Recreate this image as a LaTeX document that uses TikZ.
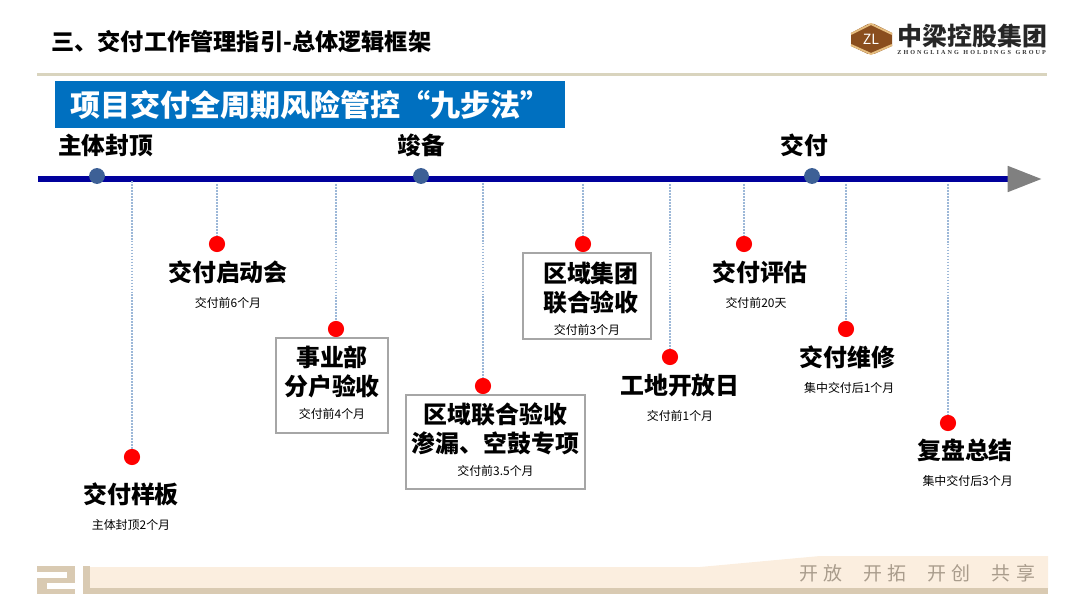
\documentclass[tikz,border=0pt]{standalone}
\usepackage{fontspec}
\setmainfont{Noto Sans CJK SC}
\newfontfamily\logoserif{Liberation Serif}
\usetikzlibrary{arrows.meta,positioning}
\definecolor{navyline}{HTML}{00009C}
\definecolor{stageblue}{HTML}{3D6096}
\definecolor{titleblue}{HTML}{0070C0}
\definecolor{ruletan}{HTML}{D9D4BE}
\definecolor{bandlight}{HTML}{FBEEDF}
\definecolor{banddark}{HTML}{D9CAB2}
\definecolor{leaderblue}{HTML}{9DB8D8}
\definecolor{logobrown}{HTML}{8A4E1E}
\definecolor{logotan}{HTML}{E6BE80}
\definecolor{mottogray}{HTML}{A99C8C}
\newcommand{\sublbl}[1]{{\fontsize{6.8}{8}\selectfont\mdseries #1}}
\tikzset{
  axisline/.style={line width=3.4pt, navyline, -{Triangle[length=19.5pt, width=14pt, color=gray]}},
  stagedot/.style={circle, fill=stageblue, minimum size=9pt, inner sep=0pt},
  stagelbl/.style={font=\fontsize{13.5}{16}\selectfont\bfseries, inner sep=0pt, text=black},
  itemdot/.style={circle, fill=red, minimum size=9.2pt, inner sep=0pt},
  itemlbl/.style={align=center, inner sep=0pt, font=\fontsize{13.6}{16.4}\selectfont\bfseries},
  itembox/.style={draw=black!35, line width=1.1pt, align=center, inner sep=0pt,
                  font=\fontsize{13.6}{16.4}\selectfont\bfseries},
  leader/.style={leaderblue, line width=0.6pt, dash pattern=on 1pt off 0.7pt}
}
\begin{document}
\begin{tikzpicture}[x=0.02cm, y=-0.02cm]
  \useasboundingbox (0,0) rectangle (1080,608);
  % header
  \node[anchor=west, inner sep=0pt, font=\fontsize{13.2}{15}\selectfont\bfseries] (heading) at (51,42) {三、交付工作管理指引-总体逻辑框架};
  \draw[ruletan, line width=1.7pt] (37,74.5) -- (1047,74.5);
  % logo
  \fill[logobrown] (851,33) -- (868,24) -- (874,24) -- (892,33) -- (892,46) -- (874,54) -- (868,54) -- (851,46) -- cycle;
  \draw[logotan, line width=1.1pt] (851,34) -- (871,24) -- (892,34);
  \draw[logotan, line width=1.1pt] (851,45) -- (871,54) -- (892,45);
  \node[text=white, inner sep=0pt, font=\fontsize{8}{8}\selectfont] (logomark) at (871,39) {ZL};
  \node[anchor=west, inner sep=0pt, text=black!85, font=\fontsize{14.2}{15}\selectfont\bfseries] (logoname) at (897,36) {中梁控股集团};
  \node[anchor=west, inner sep=0pt, text=black!80, font=\logoserif\fontsize{3.5}{4}\selectfont\bfseries] (logoen) at (897,52.5) {Z\,\,H\,\,O\,\,N\,\,G\,\,L\,\,I\,\,A\,\,N\,\,G\ \ \ H\,\,O\,\,L\,\,D\,\,I\,\,N\,\,G\,\,S\ \ \ G\,\,R\,\,O\,\,U\,\,P};
  % footer band
  \fill[bandlight] (90,567) -- (700,567) -- (820,556) -- (1048,556) -- (1048,589) -- (90,589) -- cycle;
  \fill[banddark] (83,588) rectangle (1048,593.5);
  \fill[banddark] (83,566) rectangle (90,594);
  \fill[banddark] (37,566) rectangle (75,572);
  \fill[banddark] (67,566) rectangle (75,583);
  \fill[banddark] (37,578) rectangle (75,583);
  \fill[banddark] (37,578) rectangle (47,594);
  \fill[banddark] (37,589) rectangle (75,594);
  \node[anchor=east, inner sep=0pt, text=mottogray, font=\fontsize{10.8}{13}\selectfont] (motto) at (1035.5,573) {开\hspace{3pt}放\hspace{12pt}开\hspace{3pt}拓\hspace{12pt}开\hspace{3pt}创\hspace{12pt}共\hspace{3pt}享};
  % title bar
  \node[fill=titleblue, text=white, anchor=north west, minimum width=10.2cm, minimum height=0.94cm,
        inner xsep=8.5pt, text width=10.2cm-17pt, inner ysep=0pt, font=\fontsize{17.1}{20}\selectfont\bfseries] (titlebar) at (55,81) {项目交付全周期风险管控“九步法”};
  % axis
  \coordinate (axisstart) at (38,179);
  \coordinate (axisend) at (1042,179);
  \draw[axisline] (axisstart) -- (axisend);
  \node[stagedot] (s1) at (97,176) {};
  \node[stagedot] (s2) at (421,176) {};
  \node[stagedot] (s3) at (812,176) {};
  \node[stagelbl] (s1lbl) at (105.5,145) {主体封顶};
  \node[stagelbl] (s2lbl) at (421,145) {竣备};
  \node[stagelbl] (s3lbl) at (804,145) {交付};
  % items
  \node[itemdot] (d1) at (132,457) {};
  \node[itemdot] (d2) at (217,244) {};
  \node[itemdot] (d3) at (336,329) {};
  \node[itemdot] (d4) at (483,386) {};
  \node[itemdot] (d5) at (583,244) {};
  \node[itemdot] (d6) at (670,357) {};
  \node[itemdot] (d7) at (744,244) {};
  \node[itemdot] (d8) at (846,329) {};
  \node[itemdot] (d9) at (948,423) {};
  \node[itemlbl] (l1) at (131,507) {交付样板\\[-1.5pt]\sublbl{主体封顶2个月}};
  \node[itemlbl] (l2) at (228,285) {交付启动会\\[-1.5pt]\sublbl{交付前6个月}};
  \node[itembox, minimum width=2.24cm, minimum height=1.9cm] (l3) at (332,385.5) {事业部\\分户验收\\[-3pt]\sublbl{交付前4个月}\rule[-3.5pt]{0pt}{3.5pt}};
  \node[itembox, minimum width=3.58cm, minimum height=1.88cm] (l4) at (495.5,442) {区域联合验收\\渗漏、空鼓专项\\[-3.5pt]\sublbl{交付前3.5个月}\rule[-3.5pt]{0pt}{3.5pt}};
  \node[itembox, minimum width=2.56cm, minimum height=1.72cm] (l5) at (587,296) {\rule{0pt}{15pt}\hspace*{4.5pt}区域集团\\\hspace*{4.5pt}联合验收\\[-3pt]\sublbl{交付前3个月}};
  \node[itemlbl] (l6) at (680,398) {工地开放日\\[-1.5pt]\sublbl{交付前1个月}};
  \node[itemlbl] (l7) at (760,285) {交付评估\\[-1.5pt]\sublbl{交付前20天\hspace*{4.5pt}}};
  \node[itemlbl] (l8) at (847.5,370) {交付维修\\[-1.5pt]\sublbl{\hspace*{2pt}集中交付后1个月}};
  \node[itemlbl] (l9) at (965,463) {复盘总结\\[-1.5pt]\sublbl{\hspace*{3pt}集中交付后3个月}};
  % leaders
  \coordinate (t1) at (132,181);
  \coordinate (t2) at (217,184);
  \coordinate (t3) at (336,184);
  \coordinate (t4) at (483,183);
  \coordinate (t5) at (583,184);
  \coordinate (t6) at (670,184);
  \coordinate (t7) at (744,184);
  \coordinate (t8) at (846,184);
  \coordinate (t9) at (948,184);
  \foreach \i in {1,...,9} \draw[leader] (t\i) -- (d\i);
\end{tikzpicture}
\end{document}
